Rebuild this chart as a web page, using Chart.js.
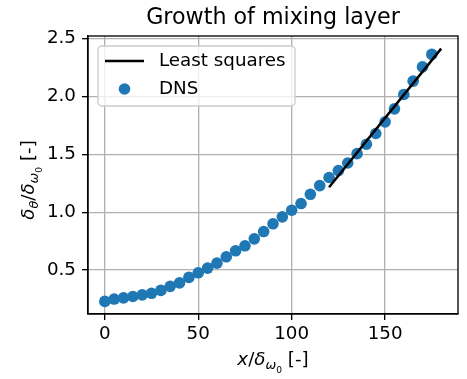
<!DOCTYPE html>
<html lang="en">
<head>
  <meta charset="UTF-8">
  <title>Growth of mixing layer</title>
  <script src="https://cdn.jsdelivr.net/npm/chart.js"></script>
  <style>
    body {
      margin: 0;
      background: #ffffff;
    }
    #wrap {
      width: 467px;
      height: 379px;
    }
  </style>
</head>
<body>

  <div id="wrap">
    <canvas id="growthChart"></canvas>
  </div>

  <script>
    // DNS samples of momentum thickness along the streamwise direction
    const dnsX = [0, 5, 10, 15, 20, 25, 30, 35, 40, 45, 50, 55, 60, 65, 70, 75, 80, 85,
                  90, 95, 100, 105, 110, 115, 120, 125, 130, 135, 140, 145, 150, 155, 160, 165, 170, 175];
    const dnsY = [0.23, 0.25, 0.26, 0.272, 0.286, 0.30, 0.325, 0.36, 0.39, 0.437, 0.477, 0.517,
                  0.56, 0.615, 0.667, 0.71, 0.77, 0.833, 0.90, 0.96, 1.017, 1.075, 1.155, 1.23,
                  1.30, 1.36, 1.425, 1.506, 1.587, 1.68, 1.78, 1.893, 2.017, 2.132, 2.255, 2.363];

    // linear fit over the self-similar part
    const fitX = [120, 180];
    const fitY = [1.215, 2.413];

    const xTicks = [0, 50, 100, 150];
    const yTicks = [0.5, 1.0, 1.5, 2.0, 2.5];

    const seriesNames = ['Least squares', 'DNS'];
    const chartTitle = 'Growth of mixing layer';

    const FONT = "'DejaVu Sans', sans-serif";
    const BLUE = '#1f77b4';
    const TEXT_SIZE = 18.3;

    // draws a run of text pieces with sub/superscript offsets, returns total width
    function runWidth(ctx, parts, size) {
      let w = 0;
      parts.forEach(p => {
        ctx.font = (p.it ? 'oblique ' : '') + (size * (p.s || 1)) + 'px ' + FONT;
        w += ctx.measureText(p.t).width;
      });
      return w;
    }
    function drawRun(ctx, parts, x, y, size) {
      parts.forEach(p => {
        ctx.font = (p.it ? 'oblique ' : '') + (size * (p.s || 1)) + 'px ' + FONT;
        ctx.fillText(p.t, x, y + (p.dy || 0));
        x += ctx.measureText(p.t).width;
      });
    }

    const xLabel = [
      { t: 'x', it: true }, { t: '/' }, { t: 'δ', it: true },
      { t: 'ω', it: true, s: 0.7, dy: 4 }, { t: '0', s: 0.5, dy: 7.5 },
      { t: ' [-]' }
    ];
    const yLabel = [
      { t: 'δ', it: true }, { t: 'θ', it: true, s: 0.7, dy: 4 },
      { t: '/' }, { t: 'δ', it: true },
      { t: 'ω', it: true, s: 0.7, dy: 4 }, { t: '0', s: 0.5, dy: 7.5 },
      { t: ' [-]' }
    ];

    const decor = {
      id: 'decor',
      afterDraw(chart) {
        const { ctx, chartArea: a } = chart;
        ctx.save();

        // full frame
        ctx.strokeStyle = '#000';
        ctx.lineWidth = 1.33;
        ctx.strokeRect(a.left, a.top, a.right - a.left, a.bottom - a.top);

        ctx.fillStyle = '#000';
        ctx.textBaseline = 'alphabetic';

        // title
        ctx.font = '22.2px ' + FONT;
        ctx.textAlign = 'center';
        ctx.fillText(chartTitle, (a.left + a.right) / 2, 24);
        ctx.textAlign = 'left';

        // x axis label
        let w = runWidth(ctx, xLabel, TEXT_SIZE);
        drawRun(ctx, xLabel, (a.left + a.right) / 2 - w / 2, 365, TEXT_SIZE);

        // y axis label, rotated
        w = runWidth(ctx, yLabel, TEXT_SIZE);
        ctx.translate(34, (a.top + a.bottom) / 2 + 5);
        ctx.rotate(-Math.PI / 2);
        drawRun(ctx, yLabel, -w / 2, 0, TEXT_SIZE);
        ctx.setTransform(1, 0, 0, 1, 0, 0);

        // legend box
        const lx = 98, ly = 46, lw = 197, lh = 60, r = 4;
        ctx.beginPath();
        ctx.roundRect(lx, ly, lw, lh, r);
        ctx.fillStyle = 'rgba(255,255,255,0.8)';
        ctx.fill();
        ctx.strokeStyle = '#cccccc';
        ctx.lineWidth = 1.33;
        ctx.stroke();

        ctx.strokeStyle = '#000';
        ctx.lineWidth = 2.5;
        ctx.beginPath();
        ctx.moveTo(105, 61);
        ctx.lineTo(144, 61);
        ctx.stroke();

        ctx.fillStyle = BLUE;
        ctx.beginPath();
        ctx.arc(124.5, 89, 5.8, 0, Math.PI * 2);
        ctx.fill();

        ctx.fillStyle = '#000';
        ctx.font = TEXT_SIZE + 'px ' + FONT;
        ctx.textBaseline = 'middle';
        ctx.fillText(seriesNames[0], 159, 61);
        ctx.fillText(seriesNames[1], 159, 89);

        ctx.restore();
      }
    };

    const gridStyle = {
      color: '#b0b0b0',
      lineWidth: 1.33,
      tickColor: '#000',
      tickLength: 6,
      tickWidth: 1.33
    };
    const tickFont = { family: FONT, size: TEXT_SIZE };

    const ctx = document.getElementById('growthChart').getContext('2d');
    new Chart(ctx, {
      type: 'scatter',
      data: {
        datasets: [
          {
            label: seriesNames[0],
            data: fitX.map((x, i) => ({ x: x, y: fitY[i] })),
            showLine: true,
            borderColor: '#000',
            borderWidth: 2.5,
            pointRadius: 0,
            fill: false
          },
          {
            label: seriesNames[1],
            data: dnsX.map((x, i) => ({ x: x, y: dnsY[i] })),
            backgroundColor: BLUE,
            borderWidth: 0,
            pointRadius: 5.8,
            showLine: false
          }
        ]
      },
      options: {
        responsive: true,
        maintainAspectRatio: false,
        animation: false,
        layout: { padding: { top: 36, right: 9, left: 0, bottom: 0 } },
        scales: {
          x: {
            type: 'linear',
            min: -9,
            max: 189,
            afterBuildTicks: s => { s.ticks = xTicks.map(v => ({ value: v })); },
            afterFit: s => { s.height = 65; },
            ticks: {
              color: '#000',
              font: tickFont,
              padding: 3,
              autoSkip: false,
              maxRotation: 0,
              callback: v => String(v)
            },
            grid: gridStyle,
            border: { color: '#000', width: 1.33 }
          },
          y: {
            type: 'linear',
            min: 0.121,
            max: 2.522,
            afterBuildTicks: s => { s.ticks = yTicks.map(v => ({ value: v })); },
            afterFit: s => { s.width = 88; },
            ticks: {
              color: '#000',
              font: tickFont,
              padding: 6,
              autoSkip: false,
              callback: v => v.toFixed(1)
            },
            grid: gridStyle,
            border: { color: '#000', width: 1.33 }
          }
        },
        plugins: {
          legend: { display: false },
          tooltip: { enabled: false }
        }
      },
      plugins: [decor]
    });
  </script>

</body>
</html>
